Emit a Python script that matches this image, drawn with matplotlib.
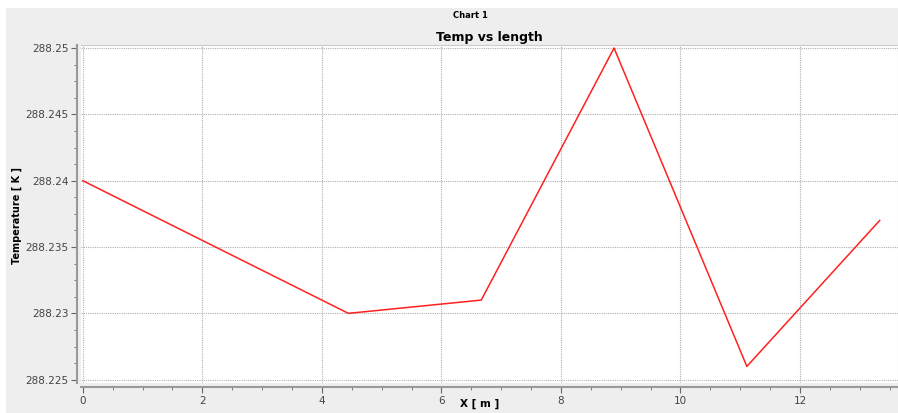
import numpy as np
import matplotlib.pyplot as plt
from matplotlib.patches import Rectangle
from matplotlib.ticker import MultipleLocator

# data
x_m = [0.0, 4.444, 6.667, 8.889, 11.111, 13.333]
temp_k = [288.240, 288.230, 288.231, 288.250, 288.226, 288.237]

fig = plt.figure(figsize=(8.98, 4.13), dpi=100)
fig.patch.set_facecolor('white')
# gray panel behind the chart
fig.patches.append(Rectangle((6 / 898, 0), 1, 1 - 8 / 413, transform=fig.transFigure,
                             facecolor='#eeeeee', edgecolor='none', zorder=-1))

ax = fig.add_axes([81 / 898, 1 - 383 / 413, 1 - 81 / 898, (383 - 45) / 413])
ax.set_facecolor('white')
ax.plot(x_m, temp_k, color='#ff2020', lw=1.1)

ax.set_xlim(-0.03, 13.64)
ax.set_ylim(288.22475, 288.25023)

ax.xaxis.set_major_locator(MultipleLocator(2))
ax.xaxis.set_minor_locator(MultipleLocator(0.5))
ax.yaxis.set_major_locator(MultipleLocator(0.005))
ax.yaxis.set_minor_locator(MultipleLocator(0.00125))
ax.yaxis.set_major_formatter(plt.FuncFormatter(lambda v, p: ('%.3f' % v).rstrip('0').rstrip('.')))

ax.grid(True, which='major', color='#b0b0b0', linestyle=(0, (1, 1)), lw=0.8)

for s in ['top', 'right']:
    ax.spines[s].set_color('#cccccc')
    ax.spines[s].set_linewidth(0.8)
for s in ['left', 'bottom']:
    ax.spines[s].set_position(('outward', 3))
    ax.spines[s].set_color('#999999')
    ax.spines[s].set_linewidth(1.5)

ax.tick_params(which='major', length=4, color='#666666', labelsize=7.5, labelcolor='#444444', pad=2)
ax.tick_params(which='minor', length=2, color='#666666')

fig.text(480 / 898, 1 - 404 / 413, 'X [ m ]', fontsize=7.5, fontweight='bold', ha='center', va='center')
fig.text(17 / 898, 1 - 215 / 413, 'Temperature [ K ]', fontsize=7, fontweight='bold',
         rotation=90, ha='center', va='center')
ax.set_title('Temp vs length', fontsize=9, fontweight='bold', pad=3)
fig.text(470 / 898, 1 - 15 / 413, 'Chart 1', fontsize=6, fontweight='bold', ha='center', va='center')

fig.savefig('out.png', dpi=100, facecolor=fig.get_facecolor())
